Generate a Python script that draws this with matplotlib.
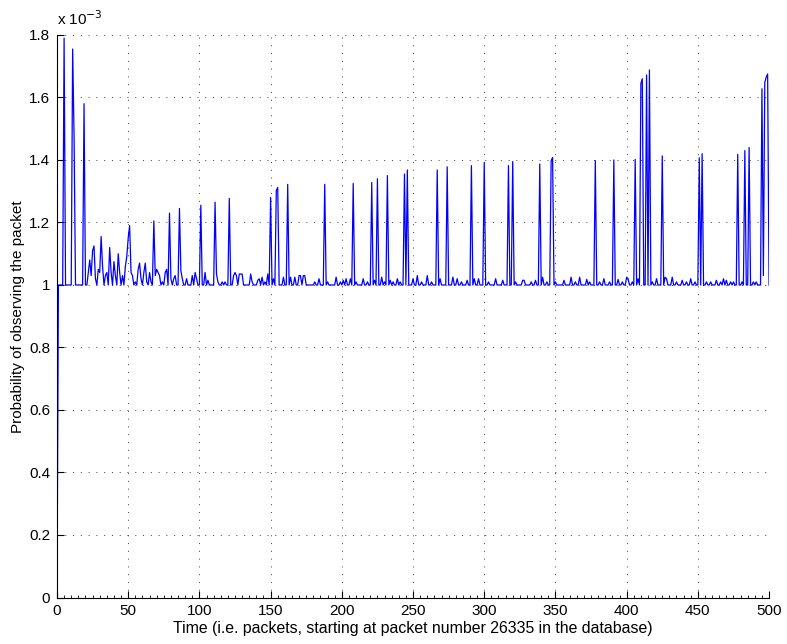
import numpy as np
import matplotlib.pyplot as plt
from matplotlib.ticker import MultipleLocator, FuncFormatter

plt.rcParams['font.family'] = ['Liberation Sans', 'DejaVu Sans']

# packet time axis 0..500, probabilities in units of 1e-3
n_packets = 500

# tall spikes (packet index, probability x 1e-3)
peak_t = [5, 11, 12, 19, 31, 37, 43, 51, 68, 79, 86,
          101, 111, 121, 150, 154, 155, 162, 188,
          208, 221, 225, 232, 244, 246, 267, 274,
          291, 300, 317, 320, 339, 347, 348, 378,
          391, 406, 410, 411, 414, 416, 425,
          451, 453, 478, 483, 486, 495, 497, 498, 499]
peak_p = [1.79, 1.755, 1.475, 1.58, 1.155, 1.12, 1.10, 1.19, 1.205, 1.23, 1.245,
          1.255, 1.265, 1.277, 1.28, 1.302, 1.312, 1.322, 1.322,
          1.325, 1.328, 1.34, 1.35, 1.355, 1.368, 1.368, 1.378,
          1.382, 1.392, 1.382, 1.395, 1.387, 1.398, 1.408, 1.398,
          1.40, 1.402, 1.645, 1.66, 1.672, 1.688, 1.413,
          1.407, 1.42, 1.418, 1.43, 1.44, 1.628, 1.648, 1.665, 1.675]

# small fluctuations just above the 1e-3 floor
bump_t = [22, 23, 24, 25, 26, 27, 29, 30, 32, 34, 35, 38, 40, 41, 44, 46, 48, 49, 50,
          52, 53, 55, 57, 58, 59, 61, 62, 63, 65, 66, 69, 70, 71, 72, 74, 76, 77,
          80, 82, 83, 87, 88, 91, 95, 97, 98, 104, 106, 112, 113, 116, 118,
          124, 125, 126, 128, 129, 130, 136, 137, 141, 142, 144, 146, 148, 152,
          159, 164, 167, 170, 171, 173, 174, 181, 184, 190, 196, 199, 201, 203,
          206, 210, 215, 218, 223, 228, 230, 234, 236, 239, 241, 250, 253, 256,
          260, 263, 269, 278, 281, 284, 288, 293, 296, 303, 308, 313, 322, 327,
          328, 333, 336, 341, 344, 350, 356, 361, 364, 367, 372, 374, 381, 384,
          388, 394, 397, 400, 401, 404, 408, 418, 421, 427, 428, 432, 435, 439,
          442, 445, 448, 456, 459, 463, 466, 468, 470, 473, 475, 481, 489, 491, 496]
bump_p = [1.04, 1.08, 1.03, 1.11, 1.125, 1.02, 1.05, 1.04, 1.06, 1.03, 1.04, 1.04,
          1.075, 1.03, 1.04, 1.03, 1.06, 1.09, 1.15,
          1.04, 1.03, 1.01, 1.05, 1.07, 1.02, 1.04, 1.07, 1.01, 1.04, 1.01, 1.03,
          1.05, 1.04, 1.03, 1.01, 1.04, 1.05,
          1.02, 1.02, 1.03, 1.045, 1.02, 1.02, 1.03, 1.04, 1.02, 1.04, 1.015, 1.035,
          1.01, 1.01, 1.01,
          1.03, 1.04, 1.03, 1.035, 1.035, 1.035, 1.035, 1.01, 1.015, 1.02, 1.025,
          1.01, 1.035, 1.02,
          1.025, 1.025, 1.025, 1.03, 1.03, 1.03, 1.03, 1.01, 1.02, 1.01, 1.025,
          1.01, 1.015, 1.02,
          1.02, 1.01, 1.02, 1.01, 1.015, 1.025, 1.01, 1.015, 1.01, 1.02, 1.01,
          1.02, 1.03, 1.01,
          1.03, 1.01, 1.02, 1.025, 1.02, 1.01, 1.015, 1.02, 1.02, 1.01, 1.02,
          1.015, 1.01, 1.015,
          1.015, 1.01, 1.015, 1.025, 1.01, 1.01, 1.015, 1.025, 1.01, 1.025, 1.018,
          1.01, 1.01, 1.02,
          1.01, 1.018, 1.01, 1.025, 1.02, 1.01, 1.02, 1.01, 1.02, 1.025, 1.02,
          1.025, 1.01, 1.015,
          1.01, 1.02, 1.01, 1.01, 1.01, 1.015, 1.01, 1.02, 1.015, 1.01, 1.01,
          1.01, 1.01, 1.01, 1.03]

t = np.arange(n_packets + 1)
prob = np.ones(n_packets + 1)
prob[0] = 0.0
prob[bump_t] = bump_p
prob[peak_t] = peak_p

fig = plt.figure(figsize=(7.87, 6.44), dpi=100)
ax = fig.add_axes([0.0724, 0.0722, 0.9048, 0.8735])

ax.plot(t, prob, color='#0000ff', lw=0.9)

ax.set_xlim(0, 500)
ax.set_ylim(0, 1.8)
ax.xaxis.set_major_locator(MultipleLocator(50))
ax.xaxis.set_minor_locator(MultipleLocator(5))
ax.yaxis.set_major_locator(MultipleLocator(0.2))
ax.yaxis.set_major_formatter(FuncFormatter(lambda v, _: '%g' % round(v, 1)))

ax.tick_params(which='both', direction='in', labelsize=11, pad=5)
ax.tick_params(which='major', length=5, width=0.8)
ax.tick_params(which='minor', length=2.5, width=0.6)
ax.tick_params(axis='y', which='minor', left=False)

ax.grid(True, which='major', color='0.25', linestyle=(0, (1, 7)), lw=0.7)

for s in ['top', 'right']:
    ax.spines[s].set_visible(False)
for s in ['left', 'bottom']:
    ax.spines[s].set_linewidth(0.8)

ax.text(0, 1.012, r'x 10$^{-3}$', transform=ax.transAxes,
        ha='left', va='bottom', fontsize=11)

ax.set_xlabel('Time (i.e. packets, starting at packet number 26335 in the database)',
              fontsize=11.4, labelpad=2)
ax.set_ylabel('Probability of observing the packet', fontsize=11, labelpad=3)

fig.savefig('out.png', dpi=100)
